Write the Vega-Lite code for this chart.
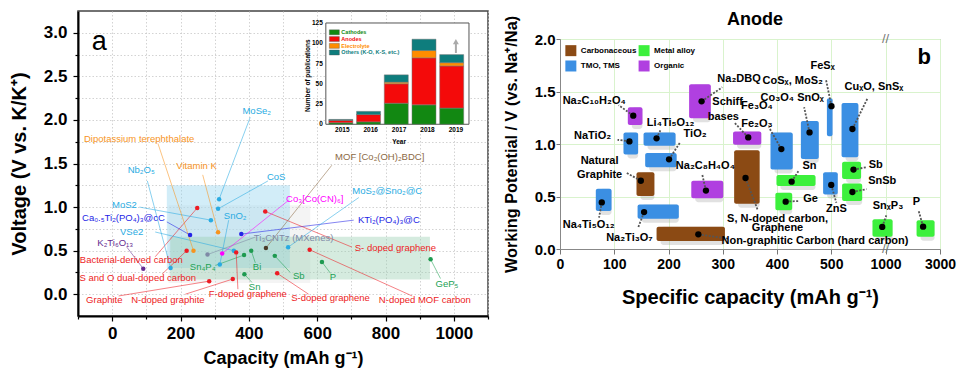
{
  "$schema": "https://vega.github.io/schema/vega-lite/v6.json",
  "padding": {"left": 8, "top": 10, "right": 0, "bottom": 0},
  "background": "white",
  "spacing": 72,
  "bounds": "flush",
  "config": {
    "font": "Liberation Sans",
    "view": {"stroke": null},
    "axis": {"labelFont": "Liberation Sans", "titleFont": "Liberation Sans", "labelColor": "black", "titleColor": "black", "labelOverlap": false, "labelFlush": false}
  },
  "datasets": {
    "regions": [
      {"region": "grey", "x1": 165, "x2": 580, "y1": 0.13, "y2": 1.02},
      {"region": "blue", "x1": 160, "x2": 520, "y1": 0.30, "y2": 1.25},
      {"region": "green", "x1": 170, "x2": 930, "y1": 0.17, "y2": 0.66}
    ],
    "pts": [
      {"name": "MoSe₂", "cap": 313, "v": 1.09, "cls": "tmo", "lx": 423, "ly": 2.10, "ex": 404, "ey": 2.03},
      {"name": "CoS", "cap": 310, "v": 0.98, "cls": "tmo", "lx": 480, "ly": 1.35, "ex": 456, "ey": 1.30},
      {"name": "Bacterial-derived carbon", "cap": 249, "v": 0.99, "cls": "carbon", "lx": 56, "ly": 0.394, "ex": 126, "ey": 0.43},
      {"name": "MoS2", "cap": 289, "v": 0.85, "cls": "tmo", "lx": 36, "ly": 1.02, "ex": 80, "ey": 1.0},
      {"name": "Ca₀.₅Ti₂(PO₄)₃@cC", "cap": 228, "v": 0.68, "cls": "polyanion", "lx": 33, "ly": 0.87, "ex": 160, "ey": 0.83},
      {"name": "Vitamin K", "cap": 310, "v": 0.71, "cls": "organic", "lx": 247, "ly": 1.47, "ex": 265, "ey": 1.37},
      {"name": "KTi₂(PO₄)₃@C", "cap": 378, "v": 0.69, "cls": "polyanion", "lx": 810, "ly": 0.85, "ex": 707, "ey": 0.85},
      {"name": "S- doped graphene", "cap": 448, "v": 0.95, "cls": "carbon", "lx": 829, "ly": 0.535, "ex": 702, "ey": 0.54},
      {"name": "MOF [Co₂(OH)₂BDC]", "cap": 450, "v": 0.53, "cls": "mof", "lx": 783, "ly": 1.57, "ex": 643, "ey": 1.48},
      {"name": "MoS₂@Sno₂@C", "cap": 515, "v": 0.54, "cls": "tmo", "lx": 805, "ly": 1.18, "ex": 722, "ey": 1.11},
      {"name": "N-doped MOF carbon", "cap": 578, "v": 0.51, "cls": "carbon", "lx": 915, "ly": -0.07, "ex": 878, "ey": -0.02},
      {"name": "GeP₅", "cap": 932, "v": 0.40, "cls": "alloy", "lx": 980, "ly": 0.12, "ex": 961, "ey": 0.18},
      {"name": "P", "cap": 614, "v": 0.37, "cls": "alloy", "lx": 646, "ly": 0.20, "ex": 639, "ey": 0.24},
      {"name": "Sb", "cap": 476, "v": 0.44, "cls": "alloy", "lx": 546, "ly": 0.21, "ex": 521, "ey": 0.25},
      {"name": "Bi", "cap": 407, "v": 0.50, "cls": "alloy", "lx": 424, "ly": 0.317, "ex": 419, "ey": 0.36},
      {"name": "Sn₄P₄", "cap": 386, "v": 0.45, "cls": "alloy", "lx": 265, "ly": 0.317, "ex": 302, "ey": 0.33},
      {"name": "Sn", "cap": 387, "v": 0.23, "cls": "alloy", "lx": 417, "ly": 0.087, "ex": 409, "ey": 0.135},
      {"name": "S-doped graphene", "cap": 483, "v": 0.24, "cls": "carbon", "lx": 639, "ly": -0.046, "ex": 575, "ey": 0.0},
      {"name": "VSe2", "cap": 356, "v": 0.50, "cls": "tmo", "lx": 57, "ly": 0.71, "ex": 126, "ey": 0.714},
      {"name": "F-doped graphene", "cap": 363, "v": 0.48, "cls": "carbon", "lx": 397, "ly": 0.0, "ex": 368, "ey": 0.058},
      {"name": "N-doped graphite", "cap": 353, "v": 0.174, "cls": "carbon", "lx": 163, "ly": -0.065, "ex": 214, "ey": 0.0},
      {"name": "Graphite", "cap": 284, "v": 0.15, "cls": "carbon", "lx": -23, "ly": -0.065, "ex": 19, "ey": -0.02},
      {"name": "S and O dual-doped carbon", "cap": 218, "v": 0.50, "cls": "carbon", "lx": 75, "ly": 0.19, "ex": 146, "ey": 0.23},
      {"name": "Dipotassium terephthalate", "cap": 238, "v": 0.50, "cls": "organic", "lx": 79, "ly": 1.78, "ex": 134, "ey": 1.73},
      {"name": "Ti₃CNTz (MXenes)", "cap": 279, "v": 0.455, "cls": "mxene", "lx": 531, "ly": 0.64, "ex": 419, "ey": 0.656},
      {"name": "Co₃[Co(CN)₆]", "cap": 322, "v": 0.467, "cls": "pba", "lx": 593, "ly": 1.09, "ex": 517, "ey": 1.08},
      {"name": "SnO₂", "cap": 315, "v": 0.34, "cls": "tmo", "lx": 360, "ly": 0.90, "ex": 341, "ey": 0.85},
      {"name": "Nb₂O₅", "cap": 171, "v": 0.30, "cls": "tmo", "lx": 85, "ly": 1.43, "ex": 103, "ey": 1.30},
      {"name": "K₂Ti₆O₁₃", "cap": 91, "v": 0.293, "cls": "titanate", "lx": 9, "ly": 0.585, "ex": 43, "ey": 0.54}
    ],
    "pubs": [
      {"year": 2015, "cat": "Cathodes", "k": 1, "n": 2}, {"year": 2015, "cat": "Anodes", "k": 2, "n": 3}, {"year": 2015, "cat": "Electrolyte", "k": 3, "n": 0}, {"year": 2015, "cat": "Others (K-O, K-S, etc.)", "k": 4, "n": 1},
      {"year": 2016, "cat": "Cathodes", "k": 1, "n": 3}, {"year": 2016, "cat": "Anodes", "k": 2, "n": 9}, {"year": 2016, "cat": "Electrolyte", "k": 3, "n": 0}, {"year": 2016, "cat": "Others (K-O, K-S, etc.)", "k": 4, "n": 4},
      {"year": 2017, "cat": "Cathodes", "k": 1, "n": 26}, {"year": 2017, "cat": "Anodes", "k": 2, "n": 24}, {"year": 2017, "cat": "Electrolyte", "k": 3, "n": 2}, {"year": 2017, "cat": "Others (K-O, K-S, etc.)", "k": 4, "n": 9},
      {"year": 2018, "cat": "Cathodes", "k": 1, "n": 24}, {"year": 2018, "cat": "Anodes", "k": 2, "n": 58}, {"year": 2018, "cat": "Electrolyte", "k": 3, "n": 9}, {"year": 2018, "cat": "Others (K-O, K-S, etc.)", "k": 4, "n": 14},
      {"year": 2019, "cat": "Cathodes", "k": 1, "n": 20}, {"year": 2019, "cat": "Anodes", "k": 2, "n": 52}, {"year": 2019, "cat": "Electrolyte", "k": 3, "n": 4}, {"year": 2019, "cat": "Others (K-O, K-S, etc.)", "k": 4, "n": 10}
    ],
    "ileg": [
      {"cat": "Cathodes", "lx": 2014.72, "ly": 113.5},
      {"cat": "Anodes", "lx": 2014.72, "ly": 105.2},
      {"cat": "Electrolyte", "lx": 2014.72, "ly": 96.8},
      {"cat": "Others (K-O, K-S, etc.)", "lx": 2014.72, "ly": 88.6}
    ],
    "iticks": [
      {"t": "0", "year": 2014.42, "n": 0}, {"t": "25", "year": 2014.42, "n": 25}, {"t": "50", "year": 2014.42, "n": 50},
      {"t": "75", "year": 2014.42, "n": 75}, {"t": "100", "year": 2014.42, "n": 100}, {"t": "125", "year": 2014.42, "n": 125}
    ],
    "iyears": [
      {"t": "2015", "year": 2015, "n": 0}, {"t": "2016", "year": 2016, "n": 0}, {"t": "2017", "year": 2017, "n": 0},
      {"t": "2018", "year": 2018, "n": 0}, {"t": "2019", "year": 2019, "n": 0}
    ],
    "anode": [
      {"name": "Na₂C₁₀H₂O₄", "cat": "Organic", "x1": 125, "x2": 152, "y1": 1.18, "y2": 1.35, "cx": 135, "cy": 1.27, "ex": 108, "ey": 1.37},
      {"name": "NaTiO₂", "cat": "TMO, TMS", "x1": 117, "x2": 144, "y1": 0.90, "y2": 1.11, "cx": 128, "cy": 1.025, "ex": 106, "ey": 1.04},
      {"name": "Li₄Ti₅O₁₂", "cat": "TMO, TMS", "x1": 154, "x2": 213, "y1": 0.984, "y2": 1.11, "cx": 178, "cy": 1.054, "ex": 185, "ey": 1.13},
      {"name": "TiO₂", "cat": "TMO, TMS", "x1": 157, "x2": 215, "y1": 0.778, "y2": 0.914, "cx": 201, "cy": 0.854, "ex": 222, "ey": 1.02},
      {"name": "Na₂DBQ", "cat": "Organic", "x1": 238, "x2": 278, "y1": 1.245, "y2": 1.57, "cx": 261, "cy": 1.406, "ex": 299, "ey": 1.54},
      {"name": "Schiff bases", "cat": "Organic", "x1": 319, "x2": 371, "y1": 0.994, "y2": 1.12, "cx": 347, "cy": 1.063, "ex": 321, "ey": 1.206},
      {"name": "S, N-doped carbon, Graphene", "cat": "Carbonaceous", "x1": 321, "x2": 368, "y1": 0.43, "y2": 0.94, "cx": 342, "cy": 0.676, "ex": 364, "ey": 0.378},
      {"name": "Fe₃O₄ Fe₂O₃", "cat": "TMO, TMS", "x1": 388, "x2": 429, "y1": 0.756, "y2": 1.11, "cx": 408, "cy": 0.952, "ex": 385, "ey": 1.16},
      {"name": "CoSₓ, MoS₂ Co₃O₄ SnOₓ", "cat": "TMO, TMS", "x1": 444, "x2": 477, "y1": 0.857, "y2": 1.22, "cx": 460, "cy": 1.11, "ex": 450, "ey": 1.35},
      {"name": "FeSₓ", "cat": "TMO, TMS", "x1": 492, "x2": 512, "y1": 1.073, "y2": 1.435, "cx": 502, "cy": 1.36, "ex": 490, "ey": 1.62},
      {"name": "CuₓO, SnSₓ", "cat": "TMO, TMS", "x1": 595, "x2": 750, "y1": 0.873, "y2": 1.39, "cx": 695, "cy": 1.143, "ex": 832, "ey": 1.43},
      {"name": "Sb", "cat": "Metal alloy", "x1": 600, "x2": 775, "y1": 0.667, "y2": 0.83, "cx": 705, "cy": 0.756, "ex": 832, "ey": 0.78},
      {"name": "Sn", "cat": "Metal alloy", "x1": 399, "x2": 471, "y1": 0.60, "y2": 0.705, "cx": 427, "cy": 0.641, "ex": 440, "ey": 0.746},
      {"name": "ZnS", "cat": "TMO, TMS", "x1": 485, "x2": 560, "y1": 0.52, "y2": 0.73, "cx": 500, "cy": 0.61, "ex": 547, "ey": 0.44},
      {"name": "SnSb", "cat": "Metal alloy", "x1": 600, "x2": 785, "y1": 0.457, "y2": 0.625, "cx": 695, "cy": 0.543, "ex": 825, "ey": 0.57},
      {"name": "Natural Graphite", "cat": "Carbonaceous", "x1": 141, "x2": 174, "y1": 0.505, "y2": 0.73, "cx": 149, "cy": 0.65, "ex": 121, "ey": 0.73},
      {"name": "Na₂C₈H₄O₄", "cat": "Organic", "x1": 242, "x2": 301, "y1": 0.483, "y2": 0.65, "cx": 269, "cy": 0.556, "ex": 262, "ey": 0.714},
      {"name": "Na₄Ti₅O₁₂", "cat": "TMO, TMS", "x1": 66, "x2": 95, "y1": 0.362, "y2": 0.575, "cx": 77, "cy": 0.444, "ex": 72, "ey": 0.298},
      {"name": "Na₂Ti₃O₇", "cat": "TMO, TMS", "x1": 143, "x2": 219, "y1": 0.289, "y2": 0.425, "cx": 155, "cy": 0.352, "ex": 144, "ey": 0.203},
      {"name": "Ge", "cat": "Metal alloy", "x1": 397, "x2": 428, "y1": 0.368, "y2": 0.536, "cx": 416, "cy": 0.451, "ex": 440, "ey": 0.457},
      {"name": "Non-graphitic Carbon (hard carbon)", "cat": "Carbonaceous", "x1": 178, "x2": 304, "y1": 0.076, "y2": 0.213, "cx": 255, "cy": 0.14, "ex": 311, "ey": 0.098},
      {"name": "SnₓP₃", "cat": "Metal alloy", "x1": 880, "x2": 1260, "y1": 0.117, "y2": 0.283, "cx": 970, "cy": 0.21, "ex": 1030, "ey": 0.32},
      {"name": "P", "cat": "Metal alloy", "x1": 2140, "x2": 2800, "y1": 0.117, "y2": 0.273, "cx": 2380, "cy": 0.213, "ex": 2210, "ey": 0.37}
    ],
    "alabels": [
      {"t": "Na₂C₁₀H₂O₄", "lx": 63, "ly": 1.413},
      {"t": "NaTiO₂", "lx": 60, "ly": 1.079},
      {"t": "Li₄Ti₅O₁₂", "lx": 204, "ly": 1.2},
      {"t": "TiO₂", "lx": 249, "ly": 1.095},
      {"t": "Na₂DBQ", "lx": 330, "ly": 1.619},
      {"t": "Schiff", "lx": 309, "ly": 1.397},
      {"t": "bases", "lx": 301, "ly": 1.254},
      {"t": "Fe₃O₄", "lx": 363, "ly": 1.365},
      {"t": "Fe₂O₃", "lx": 363, "ly": 1.19},
      {"t": "CoSₓ, MoS₂", "lx": 429, "ly": 1.603},
      {"t": "Co₃O₄ SnOₓ", "lx": 428, "ly": 1.435},
      {"t": "FeSₓ", "lx": 484, "ly": 1.746},
      {"t": "CuₓO, SnSₓ", "lx": 894, "ly": 1.54},
      {"t": "Sb", "lx": 910, "ly": 0.803},
      {"t": "SnSb", "lx": 970, "ly": 0.651},
      {"t": "Sn", "lx": 460, "ly": 0.794},
      {"t": "Natural", "lx": 73, "ly": 0.841},
      {"t": "Graphite", "lx": 73, "ly": 0.708},
      {"t": "Na₂C₈H₄O₄", "lx": 268, "ly": 0.794},
      {"t": "Ge", "lx": 462, "ly": 0.473},
      {"t": "ZnS", "lx": 547, "ly": 0.384},
      {"t": "S, N-doped carbon,", "lx": 401, "ly": 0.289},
      {"t": "Graphene", "lx": 401, "ly": 0.203},
      {"t": "Non-graphitic Carbon (hard carbon)", "lx": 470, "ly": 0.076},
      {"t": "Na₄Ti₅O₁₂", "lx": 53, "ly": 0.229},
      {"t": "Na₂Ti₃O₇", "lx": 128, "ly": 0.108},
      {"t": "SnₓP₃", "lx": 1092, "ly": 0.41},
      {"t": "P", "lx": 2136, "ly": 0.45}
    ],
    "aleg": [
      {"cat": "Carbonaceous", "lx": 20, "ly": 1.889},
      {"cat": "Metal alloy", "lx": 155, "ly": 1.889},
      {"cat": "TMO, TMS", "lx": 20, "ly": 1.743},
      {"cat": "Organic", "lx": 155, "ly": 1.743}
    ]
  },
  "hconcat": [
    {
      "width": 410,
      "height": 305,
      "view": {"stroke": "#444", "strokeWidth": 1.5},
      "layer": [
        {
          "data": {"name": "regions"},
          "mark": {"type": "rect", "fillOpacity": 0.42},
          "encoding": {
            "x": {"field": "x1", "type": "quantitative", "scale": {"domain": [-100, 1100], "nice": false, "zero": false},
              "axis": {"values": [-100, 0, 100, 200, 300, 400, 500, 600, 700, 800, 900, 1000, 1100], "format": "d",
                "labelExpr": "(datum.value % 200 === 0 && datum.value >= 0) ? datum.label : ''",
                "title": "Capacity (mAh g⁻¹)", "titleFontSize": 18, "titleFontWeight": "bold", "titlePadding": 8,
                "labelFontSize": 17, "labelFontWeight": "bold", "labelPadding": 4,
                "tickSize": {"condition": {"test": "datum.value % 200 === 0", "value": 5}, "value": 3},
                "tickColor": "black", "tickWidth": 1.2, "domainColor": "black", "domainWidth": 2,
                "grid": true, "gridDash": [1.5, 2], "gridColor": "#c8c8c8", "gridWidth": 0.8}},
            "x2": {"field": "x2"},
            "y": {"field": "y1", "type": "quantitative", "scale": {"domain": [-0.25, 3.25], "nice": false, "zero": false},
              "axis": {"values": [0, 0.25, 0.5, 0.75, 1, 1.25, 1.5, 1.75, 2, 2.25, 2.5, 2.75, 3],
                "labelExpr": "(abs(datum.value*2 - round(datum.value*2)) < 0.001) ? format(datum.value, '.1f') : ''",
                "title": "Voltage (V vs. K/K⁺)", "titleFontSize": 20, "titleFontWeight": "bold", "titlePadding": 14,
                "labelFontSize": 17, "labelFontWeight": "bold", "labelPadding": 6,
                "tickSize": {"condition": {"test": "abs(datum.value*2 - round(datum.value*2)) < 0.001", "value": 5}, "value": 3},
                "tickColor": "black", "tickWidth": 1.2, "domainColor": "black", "domainWidth": 2,
                "grid": true, "gridDash": [1.5, 2], "gridColor": "#c8c8c8", "gridWidth": 0.8}},
            "y2": {"field": "y2"},
            "fill": {"field": "region", "type": "nominal", "scale": {"domain": ["grey", "blue", "green"], "range": ["#e4e4e4", "#93d3ee", "#9ccfb2"]}, "legend": null}
          }
        },
        {
          "data": {"name": "pts"},
          "mark": {"type": "rule", "strokeWidth": 0.8, "opacity": 0.7},
          "encoding": {
            "x": {"field": "cap", "type": "quantitative", "scale": {"domain": [-100, 1100], "nice": false, "zero": false}, "axis": null},
            "y": {"field": "v", "type": "quantitative", "scale": {"domain": [-0.25, 3.25], "nice": false, "zero": false}, "axis": null},
            "x2": {"field": "ex"},
            "y2": {"field": "ey"},
            "color": {"field": "cls", "type": "nominal", "legend": null,
              "scale": {"domain": ["tmo", "carbon", "alloy", "organic", "polyanion", "titanate", "pba", "mxene", "mof"],
                        "range": ["#29abe2", "#ed1c24", "#22a255", "#f7941d", "#2424e6", "#662d91", "#ff00ff", "#7f8aa6", "#8c6a45"]}}
          }
        },
        {
          "data": {"name": "pts"},
          "mark": {"type": "circle", "opacity": 1},
          "encoding": {
            "x": {"field": "cap", "type": "quantitative", "scale": {"domain": [-100, 1100], "nice": false, "zero": false}, "axis": null},
            "y": {"field": "v", "type": "quantitative", "scale": {"domain": [-0.25, 3.25], "nice": false, "zero": false}, "axis": null},
            "color": {"field": "cls", "type": "nominal", "legend": null,
              "scale": {"domain": ["tmo", "carbon", "alloy", "organic", "polyanion", "titanate", "pba", "mxene", "mof"],
                        "range": ["#29abe2", "#ed1c24", "#1e9a50", "#f7941d", "#2424e6", "#662d91", "#ff00ff", "#7f8aa6", "#4a3c28"]}},
            "size": {"field": "cls", "type": "nominal", "legend": null,
              "scale": {"domain": ["tmo", "carbon", "alloy", "organic", "polyanion", "titanate", "pba", "mxene", "mof"],
                        "range": [20, 20, 20, 70, 35, 35, 40, 40, 70]}}
          }
        },
        {
          "data": {"name": "pts"},
          "mark": {"type": "text", "fontSize": 9.5, "font": "Liberation Sans"},
          "encoding": {
            "x": {"field": "lx", "type": "quantitative", "scale": {"domain": [-100, 1100], "nice": false, "zero": false}, "axis": null},
            "y": {"field": "ly", "type": "quantitative", "scale": {"domain": [-0.25, 3.25], "nice": false, "zero": false}, "axis": null},
            "text": {"field": "name"},
            "color": {"field": "cls", "type": "nominal", "legend": null,
              "scale": {"domain": ["tmo", "carbon", "alloy", "organic", "polyanion", "titanate", "pba", "mxene", "mof"],
                        "range": ["#29abe2", "#ed1c24", "#22a255", "#f7941d", "#2424e6", "#662d91", "#ff00ff", "#7f8aa6", "#8c6a45"]}}
          }
        },
        {
          "data": {"values": [{"label": "a", "cap": -38, "v": 2.9}]},
          "mark": {"type": "text", "fontSize": 27, "font": "Liberation Sans", "color": "black"},
          "encoding": {
            "x": {"field": "cap", "type": "quantitative", "scale": {"domain": [-100, 1100], "nice": false, "zero": false}, "axis": null},
            "y": {"field": "v", "type": "quantitative", "scale": {"domain": [-0.25, 3.25], "nice": false, "zero": false}, "axis": null},
            "text": {"field": "label"}
          }
        },
        {
          "data": {"values": [{"x1": 2014.42, "x2": 2019.46, "y1": 0, "y2": 125}]},
          "mark": {"type": "rect", "fill": "white", "stroke": "#555", "strokeWidth": 1},
          "encoding": {
            "x": {"field": "x1", "type": "quantitative", "scale": {"domain": [2005.694, 2020.13], "nice": false, "zero": false}, "axis": null},
            "x2": {"field": "x2"},
            "y": {"field": "y1", "type": "quantitative", "scale": {"domain": [-236.6, 139.8], "nice": false, "zero": false}, "axis": null},
            "y2": {"field": "y2"}
          }
        },
        {
          "data": {"name": "pubs"},
          "mark": {"type": "bar", "size": 24, "stroke": "#777", "strokeWidth": 0.5},
          "encoding": {
            "x": {"field": "year", "type": "quantitative", "scale": {"domain": [2005.694, 2020.13], "nice": false, "zero": false}, "axis": null},
            "y": {"field": "n", "type": "quantitative", "stack": "zero", "scale": {"domain": [-236.6, 139.8], "nice": false, "zero": false}, "axis": null},
            "order": {"field": "k"},
            "color": {"field": "cat", "type": "nominal", "legend": null,
              "scale": {"domain": ["Cathodes", "Anodes", "Electrolyte", "Others (K-O, K-S, etc.)"], "range": ["#128812", "#f40a0a", "#ff8c00", "#0e7d7d"]}}
          }
        },
        {
          "data": {"name": "ileg"},
          "mark": {"type": "point", "shape": "M-1,-0.5H1V0.5H-1Z", "filled": true, "size": 100, "opacity": 1, "stroke": "#555", "strokeWidth": 0.4},
          "encoding": {
            "x": {"field": "lx", "type": "quantitative", "scale": {"domain": [2005.694, 2020.13], "nice": false, "zero": false}, "axis": null},
            "y": {"field": "ly", "type": "quantitative", "scale": {"domain": [-236.6, 139.8], "nice": false, "zero": false}, "axis": null},
            "fill": {"field": "cat", "type": "nominal", "legend": null,
              "scale": {"domain": ["Cathodes", "Anodes", "Electrolyte", "Others (K-O, K-S, etc.)"], "range": ["#128812", "#f40a0a", "#ff8c00", "#0e7d7d"]}}
          }
        },
        {
          "data": {"name": "ileg"},
          "mark": {"type": "text", "fontSize": 5.5, "fontWeight": "bold", "font": "Liberation Sans", "align": "left", "dx": 7},
          "encoding": {
            "x": {"field": "lx", "type": "quantitative", "scale": {"domain": [2005.694, 2020.13], "nice": false, "zero": false}, "axis": null},
            "y": {"field": "ly", "type": "quantitative", "scale": {"domain": [-236.6, 139.8], "nice": false, "zero": false}, "axis": null},
            "text": {"field": "cat"},
            "color": {"field": "cat", "type": "nominal", "legend": null,
              "scale": {"domain": ["Cathodes", "Anodes", "Electrolyte", "Others (K-O, K-S, etc.)"], "range": ["#128812", "#f40a0a", "#ff8c00", "#0e7d7d"]}}
          }
        },
        {
          "data": {"name": "iticks"},
          "mark": {"type": "text", "fontSize": 6.5, "fontWeight": "bold", "font": "Liberation Sans", "align": "right", "dx": -3, "color": "black"},
          "encoding": {
            "x": {"field": "year", "type": "quantitative", "scale": {"domain": [2005.694, 2020.13], "nice": false, "zero": false}, "axis": null},
            "y": {"field": "n", "type": "quantitative", "scale": {"domain": [-236.6, 139.8], "nice": false, "zero": false}, "axis": null},
            "text": {"field": "t"}
          }
        },
        {
          "data": {"name": "iyears"},
          "mark": {"type": "text", "fontSize": 6.5, "fontWeight": "bold", "font": "Liberation Sans", "baseline": "top", "dy": 3, "color": "black"},
          "encoding": {
            "x": {"field": "year", "type": "quantitative", "scale": {"domain": [2005.694, 2020.13], "nice": false, "zero": false}, "axis": null},
            "y": {"field": "n", "type": "quantitative", "scale": {"domain": [-236.6, 139.8], "nice": false, "zero": false}, "axis": null},
            "text": {"field": "t"}
          }
        },
        {
          "data": {"values": [{"year": 2019, "a": 88, "b": 100}]},
          "mark": {"type": "rule", "color": "#aaaaaa", "strokeWidth": 2},
          "encoding": {
            "x": {"field": "year", "type": "quantitative", "scale": {"domain": [2005.694, 2020.13], "nice": false, "zero": false}, "axis": null},
            "y": {"field": "a", "type": "quantitative", "scale": {"domain": [-236.6, 139.8], "nice": false, "zero": false}, "axis": null},
            "y2": {"field": "b"}
          }
        },
        {
          "data": {"values": [{"year": 2019, "a": 102}]},
          "mark": {"type": "point", "shape": "triangle-up", "filled": true, "color": "#aaaaaa", "size": 35, "opacity": 1},
          "encoding": {
            "x": {"field": "year", "type": "quantitative", "scale": {"domain": [2005.694, 2020.13], "nice": false, "zero": false}, "axis": null},
            "y": {"field": "a", "type": "quantitative", "scale": {"domain": [-236.6, 139.8], "nice": false, "zero": false}, "axis": null}
          }
        },
        {
          "data": {"values": [{"t": "Year", "year": 2017, "n": -21.5, "angle": 0}, {"t": "Number of publications", "year": 2013.8, "n": 60, "angle": 270}]},
          "mark": {"type": "text", "fontSize": 6.5, "fontWeight": "bold", "font": "Liberation Sans", "color": "black"},
          "encoding": {
            "x": {"field": "year", "type": "quantitative", "scale": {"domain": [2005.694, 2020.13], "nice": false, "zero": false}, "axis": null},
            "y": {"field": "n", "type": "quantitative", "scale": {"domain": [-236.6, 139.8], "nice": false, "zero": false}, "axis": null},
            "text": {"field": "t"},
            "angle": {"field": "angle", "type": "quantitative", "scale": null}
          }
        }
      ],
      "resolve": {"scale": {"x": "independent", "y": "independent", "color": "independent", "fill": "independent", "size": "independent"}}
    },
    {
      "spacing": 10,
      "bounds": "flush",
      "vconcat": [
        {
          "width": 380,
          "height": 18,
          "view": {"stroke": null},
          "data": {"values": [{"t": "Anode"}]},
          "mark": {"type": "text", "fontSize": 18, "fontWeight": "bold", "font": "Liberation Sans", "color": "black", "dx": 5},
          "encoding": {"text": {"field": "t"}}
        },
        {
          "width": 380,
          "height": 210,
          "view": {"stroke": "#999", "strokeWidth": 1},
          "layer": [
            {
              "data": {"name": "anode"},
              "mark": {"type": "rect", "color": "#9a9a9a", "opacity": 0.3, "xOffset": 4, "yOffset": 4, "cornerRadius": 3},
              "encoding": {
                "x": {"field": "x1", "type": "quantitative",
                  "scale": {"domain": [0, 500, 1000, 3000], "range": [0, 271.25, 325.5, 380], "nice": false, "zero": false},
                  "axis": {"values": [0, 50, 100, 150, 200, 250, 300, 350, 400, 450, 500, 750, 1000, 2000, 3000], "format": "d",
                    "labelExpr": "((datum.value <= 500 && datum.value % 100 === 0) || datum.value === 1000 || datum.value === 3000) ? datum.label : ''",
                    "title": "Specific capacity (mAh g⁻¹)", "titleFontSize": 20, "titleFontWeight": "bold", "titlePadding": 16,
                    "labelFontSize": 14, "labelFontWeight": "bold", "labelPadding": 3,
                    "tickSize": {"condition": {"test": "(datum.value <= 500 && datum.value % 100 === 0) || datum.value === 1000 || datum.value === 3000", "value": 5}, "value": 3},
                    "tickColor": "#777", "domainColor": "#888",
                    "grid": true, "gridColor": "#d9f3cd", "gridWidth": 1}},
                "x2": {"field": "x2"},
                "y": {"field": "y1", "type": "quantitative", "scale": {"domain": [0, 2], "nice": false, "zero": false},
                  "axis": {"values": [0, 0.25, 0.5, 0.75, 1, 1.25, 1.5, 1.75, 2],
                    "labelExpr": "(abs(datum.value*2 - round(datum.value*2)) < 0.001) ? format(datum.value, '.1f') : ''",
                    "title": "Working Potential / V (vs. Na⁺/Na)", "titleFontSize": 16.3, "titleFontWeight": "bold", "titlePadding": 15,
                    "labelFontSize": 15, "labelFontWeight": "bold", "labelPadding": 1,
                    "tickSize": {"condition": {"test": "abs(datum.value*2 - round(datum.value*2)) < 0.001", "value": 4}, "value": 2},
                    "tickColor": "#777", "domainColor": "#888",
                    "grid": true, "gridColor": "#d9f3cd", "gridWidth": 1}},
                "y2": {"field": "y2"}
              }
            },
            {
              "data": {"name": "anode"},
              "mark": {"type": "rect", "cornerRadius": 2, "opacity": 1},
              "encoding": {
                "x": {"field": "x1", "type": "quantitative"},
                "x2": {"field": "x2"},
                "y": {"field": "y1", "type": "quantitative"},
                "y2": {"field": "y2"},
                "color": {"field": "cat", "type": "nominal", "legend": null,
                  "scale": {"domain": ["Carbonaceous", "Metal alloy", "TMO, TMS", "Organic"], "range": ["#8b4a14", "#3cf03c", "#3b8fe3", "#b040e0"]}}
              }
            },
            {
              "data": {"name": "aleg"},
              "mark": {"type": "point", "shape": "square", "filled": true, "size": 121, "opacity": 1},
              "encoding": {
                "x": {"field": "lx", "type": "quantitative"},
                "y": {"field": "ly", "type": "quantitative"},
                "color": {"field": "cat", "type": "nominal", "legend": null}
              }
            },
            {
              "data": {"name": "aleg"},
              "mark": {"type": "text", "font": "Liberation Sans", "fontSize": 8, "fontWeight": "bold", "color": "black", "align": "left", "dx": 10},
              "encoding": {
                "x": {"field": "lx", "type": "quantitative"},
                "y": {"field": "ly", "type": "quantitative"},
                "text": {"field": "cat"}
              }
            },
            {
              "data": {"name": "anode"},
              "mark": {"type": "rule", "strokeDash": [2, 1.5], "strokeWidth": 1.8, "color": "#555"},
              "encoding": {
                "x": {"field": "cx", "type": "quantitative"},
                "y": {"field": "cy", "type": "quantitative"},
                "x2": {"field": "ex"},
                "y2": {"field": "ey"}
              }
            },
            {
              "data": {"name": "anode"},
              "mark": {"type": "circle", "color": "black", "size": 40, "opacity": 1},
              "encoding": {
                "x": {"field": "cx", "type": "quantitative"},
                "y": {"field": "cy", "type": "quantitative"}
              }
            },
            {
              "data": {"name": "alabels"},
              "mark": {"type": "text", "font": "Liberation Sans", "fontSize": 11, "fontWeight": "bold", "color": "black"},
              "encoding": {
                "x": {"field": "lx", "type": "quantitative"},
                "y": {"field": "ly", "type": "quantitative"},
                "text": {"field": "t"}
              }
            },
            {
              "data": {"values": [{"t": "//", "cap": 1000, "v": 2.0}, {"t": "//", "cap": 1000, "v": 0.0}]},
              "mark": {"type": "text", "fontSize": 13, "color": "#777", "font": "Liberation Sans"},
              "encoding": {
                "x": {"field": "cap", "type": "quantitative"},
                "y": {"field": "v", "type": "quantitative"},
                "text": {"field": "t"}
              }
            },
            {
              "data": {"values": [{"t": "b", "cap": 2420, "v": 1.83}]},
              "mark": {"type": "text", "fontSize": 22, "fontWeight": "bold", "color": "black", "font": "Liberation Sans"},
              "encoding": {
                "x": {"field": "cap", "type": "quantitative"},
                "y": {"field": "v", "type": "quantitative"},
                "text": {"field": "t"}
              }
            }
          ]
        }
      ]
    }
  ]
}
